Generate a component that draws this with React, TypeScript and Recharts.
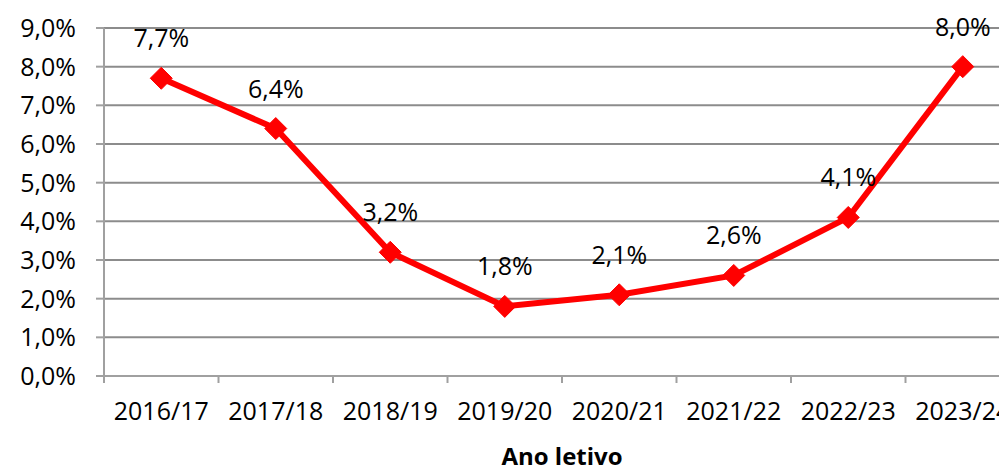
import { LineChart, Line, XAxis, YAxis, CartesianGrid, LabelList } from 'recharts'

const years = ['2016/17', '2017/18', '2018/19', '2019/20', '2020/21', '2021/22', '2022/23', '2023/24']
const rates = [7.7, 6.4, 3.2, 1.8, 2.1, 2.6, 4.1, 8.0]
const yTicks = [0, 1, 2, 3, 4, 5, 6, 7, 8, 9]

const data = years.map((year, i) => ({ year, rate: rates[i] }))

const pct = (v: number) => v.toFixed(1).replace('.', ',') + '%'

const axisGray = '#a0a0a0'
const X_TICK_SIZE = 7
const X_TICK_MARGIN = 19

// category labels centred, tick marks on the band boundaries (Excel style)
const YearTick = (props: any) => {
  const { x, y, payload } = props
  const half = payload.offset ?? 0
  const top = y - X_TICK_MARGIN - X_TICK_SIZE
  return (
    <g>
      <line x1={x - half} x2={x - half} y1={top} y2={top + X_TICK_SIZE} stroke={axisGray} strokeWidth={2} />
      <text x={x} y={y} dy="0.71em" textAnchor="middle" fontSize={25} fill="#000">
        {payload.value}
      </text>
    </g>
  )
}

const Diamond = (props: any) => {
  const { cx, cy } = props
  if (cx == null || cy == null) return null
  const r = 11
  return (
    <polygon
      points={`${cx},${cy - r} ${cx + r},${cy} ${cx},${cy + r} ${cx - r},${cy}`}
      fill="#ff0000"
      stroke="#ff0000"
    />
  )
}

export default function App() {
  return (
    <div
      style={{
        position: 'fixed',
        left: 0,
        top: 0,
        width: 999,
        height: 467,
        overflow: 'hidden',
        background: '#fff',
        fontFamily: '"Open Sans", sans-serif',
      }}
    >
      <LineChart width={1040} height={467} data={data} margin={{ top: 28, right: 20, bottom: 0, left: 0 }}>
        <CartesianGrid vertical={false} stroke="#8c8c8c" strokeWidth={2} />
        <XAxis
          dataKey="year"
          scale="band"
          height={91}
          tickLine={false}
          tickSize={X_TICK_SIZE}
          tickMargin={X_TICK_MARGIN}
          axisLine={{ stroke: axisGray, strokeWidth: 2 }}
          tick={<YearTick />}
          interval={0}
          label={{
            value: 'Ano letivo',
            position: 'insideBottom',
            offset: 2,
            style: { fontSize: 24, fontWeight: 700, fill: '#000' },
          }}
        />
        <YAxis
          width={104}
          domain={[0, 9]}
          ticks={yTicks}
          interval={0}
          tickFormatter={pct}
          tickSize={8}
          tickMargin={20}
          tick={{ fontSize: 25, fill: '#000' }}
          tickLine={{ stroke: axisGray, strokeWidth: 2 }}
          axisLine={{ stroke: axisGray, strokeWidth: 2 }}
        />
        <Line
          dataKey="rate"
          stroke="#ff0000"
          strokeWidth={6}
          dot={<Diamond />}
          activeDot={false}
          isAnimationActive={false}
        >
          <LabelList
            dataKey="rate"
            position="top"
            offset={31}
            formatter={(v: any) => pct(Number(v))}
            style={{ fontSize: 25, fill: '#000' }}
          />
        </Line>
      </LineChart>
    </div>
  )
}
